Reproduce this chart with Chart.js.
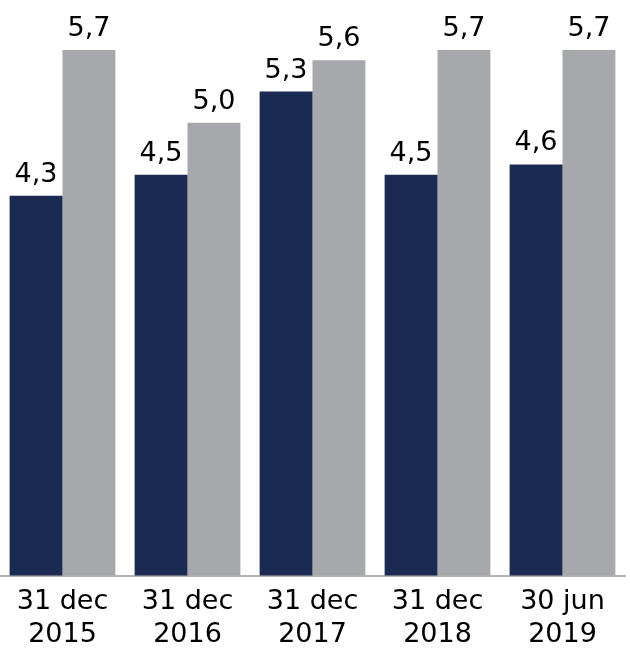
<!DOCTYPE html>
<html lang="nl">
<head>
<meta charset="utf-8">
<title>Ratio per rapportagedatum</title>
<script src="https://cdn.jsdelivr.net/npm/chart.js@4/dist/chart.umd.min.js"></script>
<style>
    html, body {
        margin: 0;
        padding: 0;
        background: #ffffff;
    }
    #ratioChart {
        display: block;
    }
</style>
</head>
<body>
<canvas id="ratioChart" width="630" height="650"></canvas>
<script>
// Reporting dates, two lines per label
const categories = [
    ['31 dec', '2015'],
    ['31 dec', '2016'],
    ['31 dec', '2017'],
    ['31 dec', '2018'],
    ['30 jun', '2019']
];

const seriesDark = [4.3, 4.5, 5.3, 4.5, 4.6];
const seriesGrey = [5.7, 5.0, 5.6, 5.7, 5.7];

const FONT_FAMILY = '"DejaVu Sans", Verdana, sans-serif';

// Writes the value above each bar, Dutch style decimal comma
const valueLabels = {
    id: 'valueLabels',
    afterDatasetsDraw(chart) {
        const ctx = chart.ctx;
        ctx.save();
        ctx.font = `27px ${FONT_FAMILY}`;
        ctx.fillStyle = '#000000';
        ctx.textAlign = 'center';
        ctx.textBaseline = 'alphabetic';
        chart.data.datasets.forEach((dataset, i) => {
            const meta = chart.getDatasetMeta(i);
            meta.data.forEach((bar, j) => {
                const text = dataset.data[j].toFixed(1).replace('.', ',');
                ctx.fillText(text, bar.x, bar.y - 14);
            });
        });
        ctx.restore();
    }
};

const ctx = document.getElementById('ratioChart');

new Chart(ctx, {
    type: 'bar',
    data: {
        labels: categories,
        datasets: [
            {
                data: seriesDark,
                backgroundColor: '#1b2a50',
                borderWidth: 0
            },
            {
                data: seriesGrey,
                backgroundColor: '#a7a8ac',
                borderWidth: 0
            }
        ]
    },
    options: {
        responsive: false,
        animation: false,
        devicePixelRatio: 1,
        layout: {
            padding: { top: 0, right: 5, bottom: 0, left: 0 }
        },
        datasets: {
            bar: {
                categoryPercentage: 0.846,
                barPercentage: 1
            }
        },
        plugins: {
            legend: { display: false },
            tooltip: { enabled: false }
        },
        scales: {
            x: {
                grid: { display: false },
                border: {
                    display: true,
                    color: '#b4b4b4',
                    width: 2
                },
                ticks: {
                    color: '#000000',
                    padding: 2,
                    maxRotation: 0,
                    autoSkip: false,
                    font: {
                        family: FONT_FAMILY,
                        size: 27,
                        lineHeight: 1.22
                    }
                },
                // keep the label band at a fixed height below the bars
                afterFit(scale) {
                    scale.height = 74.5;
                }
            },
            y: {
                display: false,
                min: 0.65,
                max: 6.18
            }
        }
    },
    plugins: [valueLabels]
});
</script>
</body>
</html>
